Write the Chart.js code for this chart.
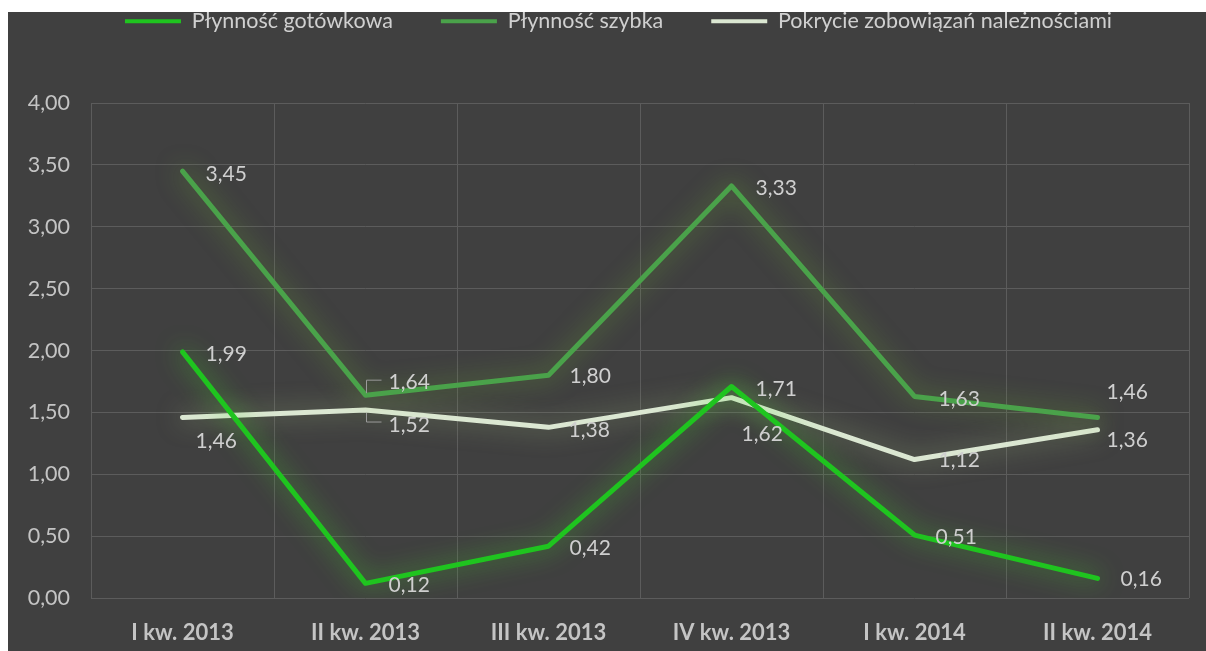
<!DOCTYPE html>
<html>
<head>
<meta charset="utf-8">
<script src="https://cdn.jsdelivr.net/npm/chart.js@4"></script>
<style>
  body { margin: 0; background: #ffffff; }
  #wrap {
    position: absolute;
    left: 8px;
    top: 12px;
    width: 1198px;
    height: 639px;
    background: #404040;
  }
</style>
</head>
<body>
<div id="wrap"><canvas id="liquidityChart" width="1198" height="639"></canvas></div>
<script>
// Dane
const categories = ["I kw. 2013", "II kw. 2013", "III kw. 2013", "IV kw. 2013", "I kw. 2014", "II kw. 2014"];
const plynnoscGotowkowa = [1.99, 0.12, 0.42, 1.71, 0.51, 0.16];
const plynnoscSzybka = [3.45, 1.64, 1.80, 3.33, 1.63, 1.46];
const pokrycieZobowiazan = [1.46, 1.52, 1.38, 1.62, 1.12, 1.36];
const yMin = 0;
const yMax = 4;
const yStep = 0.5;

// Label placement (dx, dy from point, optional leader bracket)
const labelOffsets = [
  [[23, 2], [23, 2], [21, 2], [24, 3], [21, 2], [23, 1]],
  [[23, 3], [23, -13, "up"], [21, 1], [24, 2], [24, 3], [9, -25]],
  [[13, 24], [23, 15, "down"], [20, 3], [10, 37], [24, 1], [9, 10]],
];

const fmt = (v) => v.toFixed(2).replace(".", ",");

const glowColors = ["rgba(70, 220, 40, 0.75)", "rgba(120, 200, 50, 0.6)", "rgba(180, 210, 140, 0.6)"];

// Glow around lines
const glowPlugin = {
  id: "glow",
  beforeDatasetDraw(chart, args) {
    const ctx = chart.ctx;
    ctx.save();
    ctx.shadowColor = glowColors[args.index];
    ctx.shadowBlur = 24;
  },
  afterDatasetDraw(chart) {
    chart.ctx.restore();
  },
};

// Value labels
const valueLabels = {
  id: "valueLabels",
  afterDatasetsDraw(chart) {
    const ctx = chart.ctx;
    ctx.save();
    ctx.font = "21px Lato";
    ctx.fillStyle = "#cfcfcf";
    ctx.textAlign = "left";
    ctx.textBaseline = "middle";
    chart.data.datasets.forEach((ds, i) => {
      const meta = chart.getDatasetMeta(i);
      meta.data.forEach((pt, j) => {
        const off = labelOffsets[i][j];
        const x = pt.x + off[0];
        const y = pt.y + off[1];
        ctx.fillText(fmt(ds.data[j]), x, y);
        if (off[2]) {
          ctx.strokeStyle = "#9a9a9a";
          ctx.lineWidth = 1;
          ctx.beginPath();
          const ly = off[2] === "up" ? y - 2 : y - 3;
          ctx.moveTo(x - 7, ly);
          ctx.lineTo(pt.x + 1, ly);
          ctx.lineTo(pt.x + 1, off[2] === "up" ? pt.y - 2 : pt.y + 3);
          ctx.stroke();
        }
      });
    });
    ctx.restore();
  },
};

// Extra space under legend, and nudge it right
const legendSpacer = {
  id: "legendSpacer",
  beforeInit(chart) {
    const origFit = chart.legend.fit;
    chart.legend.fit = function () {
      origFit.bind(chart.legend)();
      this.height = 140.5;
    };
  },
  afterLayout(chart) {
    chart.legend.left += 20;
    chart.legend.right += 20;
  },
};

const ctx = document.getElementById("liquidityChart").getContext("2d");

new Chart(ctx, {
  type: "line",
  data: {
    labels: categories,
    datasets: [
      {
        label: "Płynność gotówkowa",
        data: plynnoscGotowkowa,
        borderColor: "#1fc41f",
        backgroundColor: "#1fc41f",
        borderWidth: 5,
      },
      {
        label: "Płynność szybka",
        data: plynnoscSzybka,
        borderColor: "#4aa24a",
        backgroundColor: "#4aa24a",
        borderWidth: 5,
      },
      {
        label: "Pokrycie zobowiązań należnościami",
        data: pokrycieZobowiazan,
        borderColor: "#dbe7d2",
        backgroundColor: "#dbe7d2",
        borderWidth: 5,
      },
    ],
  },
  options: {
    responsive: false,
    animation: false,
    tension: 0,
    elements: {
      point: { radius: 0, hoverRadius: 0 },
      line: { borderCapStyle: "round", borderJoinStyle: "round" },
    },
    layout: {
      padding: { top: -49.5, right: 17, bottom: -17.2, left: 0 },
    },
    scales: {
      x: {
        offset: true,
        grid: {
          color: "#5c5c5c",
          lineWidth: 1,
          drawTicks: false,
          offset: true,
        },
        border: { display: false },
        ticks: {
          color: "#c4c4c4",
          padding: 21.8,
          font: { family: "Lato", size: 22, weight: "bold" },
        },
      },
      y: {
        min: yMin,
        max: yMax,
        ticks: {
          stepSize: yStep,
          color: "#c4c4c4",
          padding: 21,
          font: { family: "Lato", size: 21.5 },
          callback: (v) => fmt(v),
        },
        grid: {
          color: "#5c5c5c",
          lineWidth: 1,
          drawTicks: false,
        },
        border: { display: false },
        afterFit(scale) {
          scale.width = 83;
        },
      },
    },
    plugins: {
      legend: {
        position: "top",
        labels: {
          color: "#d0d0d0",
          boxWidth: 56,
          boxHeight: 4,
          padding: 48,
          font: { family: "Lato", size: 21.5 },
          generateLabels(chart) {
            return chart.data.datasets.map((ds, i) => ({
              text: ds.label,
              fillStyle: ds.borderColor,
              strokeStyle: ds.borderColor,
              lineWidth: 0,
              fontColor: "#d0d0d0",
              hidden: !chart.isDatasetVisible(i),
              datasetIndex: i,
            }));
          },
        },
      },
      tooltip: { enabled: false },
    },
  },
  plugins: [legendSpacer, glowPlugin, valueLabels],
});
</script>
</body>
</html>
